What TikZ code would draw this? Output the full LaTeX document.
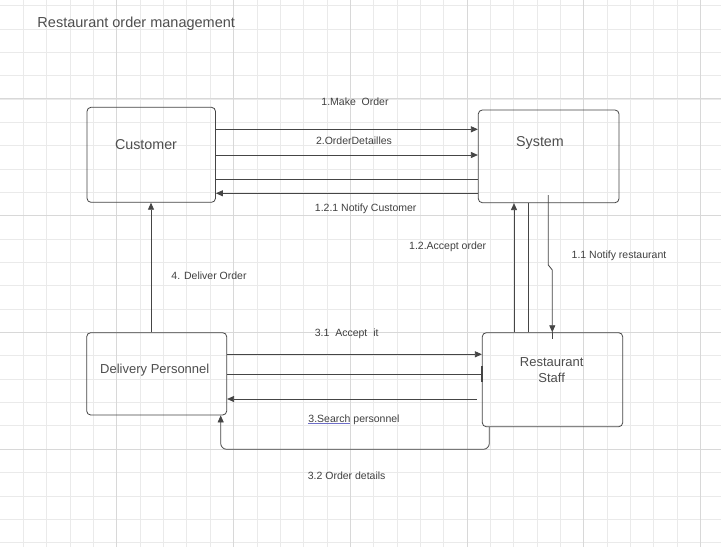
\documentclass[tikz,border=0pt]{standalone}
\usepackage{fontspec}
\setmainfont{Liberation Sans}
\usetikzlibrary{arrows.meta}
\definecolor{gridminor}{HTML}{EAEAEA}
\definecolor{gridmajor}{HTML}{D8D8D8}
\definecolor{ln}{HTML}{454545}
\definecolor{txt}{HTML}{404040}
\definecolor{boxtxt}{HTML}{4E4E4E}
\definecolor{linkblue}{HTML}{6E6EC8}
\begin{document}
\begin{tikzpicture}[x=1pt,y=-1pt,
  box/.style={draw=ln, line width=0.8pt, rounded corners=4pt, inner sep=0pt},
  flow/.style={draw=ln, line width=0.8pt, -{Triangle[length=7pt,width=6pt]}},
  plain/.style={draw=ln, line width=0.8pt},
  lbl/.style={text=txt, font=\fontsize{10.5}{12}\selectfont, inner sep=0pt},
  ttl/.style={text=boxtxt, font=\fontsize{14.3}{16.5}\selectfont, align=center, inner sep=0pt},
  ttls/.style={text=boxtxt, font=\fontsize{13}{16}\selectfont, align=center, inner sep=0pt}]

\useasboundingbox (0,0) rectangle (721,547);
\fill[white] (0,0) rectangle (721,547);
% grid
\foreach \i in {1,...,30} {
  \draw[gridminor, line width=0.7pt] (\i*23.35,0) -- (\i*23.35,547);
}
\foreach \i in {0,...,23} {
  \draw[gridminor, line width=0.7pt] (0,5.5+\i*23.35) -- (721,5.5+\i*23.35);
}
\foreach \i in {1,...,6} {
  \draw[gridmajor, line width=0.9pt] (\i*116.75,0) -- (\i*116.75,547);
}
\foreach \i in {0,...,3} {
  \draw[gridmajor, line width=0.9pt] (0,98.9+\i*116.75) -- (721,98.9+\i*116.75);
}

% title
\node[anchor=west, text=boxtxt, font=\fontsize{14.5}{17}\selectfont, inner sep=0pt] (title) at (37.3,24) {Restaurant order management};

% boxes
\node[box, minimum width=128.5pt, minimum height=95pt] (cust) at (151.25,154.8) {};
\node[box, minimum width=140.7pt, minimum height=92.7pt] (sys) at (548.65,156.35) {};
\node[box, minimum width=140.4pt, minimum height=94pt] (staff) at (552.5,379.7) {};
\node[box, minimum width=140pt, minimum height=82.3pt] (deliv) at (156.7,373.85) {};

\node[ttl] (custL) at (146,145) {Customer};
\node[ttl] (sysL) at (540,143.3) {System};
\node[ttls] (staffL) at (551.7,370) {Restaurant\\Staff};
\node[ttls] (delivL) at (154.8,370) {Delivery Personnel};

% customer <-> system
\draw[flow] (cust.east |- 0,129.3) -- (sys.west |- 0,129.3);
\draw[flow] (cust.east |- 0,155) -- (sys.west |- 0,155);
\draw[plain] (sys.west |- 0,179.3) -- (cust.east |- 0,179.3);
\draw[flow] (sys.west |- 0,193.3) -- (cust.east |- 0,193.3);

% system <-> staff
\draw[flow] (staff.north -| 514,0) -- (sys.south -| 514,0);
\draw[plain] (staff.north -| 528.3,0) -- (sys.south -| 528.3,0);
\coordinate (d1) at (548.3,195);
\draw[flow] (d1) -- (548.3,265) -- (552.3,270) -- (staff.north -| 552.3,0);
\draw[plain] (staff.north -| 552.3,0) -- ++(0,7);

% delivery <-> staff
\draw[flow] (deliv.east |- 0,354.3) -- (staff.west |- 0,354.3);
\draw[plain] (deliv.east |- 0,374) -- (staff.west |- 0,374);
\draw[draw=ln, line width=1.3pt] (staff.west |- 0,366) -- (staff.west |- 0,382);
\coordinate (s1) at (476.7,399);
\draw[flow] (s1) -- (deliv.east |- 0,399);
\draw[flow, rounded corners=6pt] (staff.south -| 489.3,0) -- (489.3,449.3) -- (220.7,449.3) -- (deliv.south -| 220.7,0);

% delivery -> customer
\draw[flow] (deliv.north -| 151,0) -- (cust.south -| 151,0);

% labels
\node[lbl] (l1) at (355,101.7) {1.Make\ \ Order};
\node[lbl] (l2) at (354,141) {2.OrderDetailles};
\node[lbl] (l3) at (365.7,209) {1.2.1 Notify Customer};
\node[lbl] (l4) at (447.7,246.7) {1.2.Accept order};
\node[lbl] (l5) at (619,256) {1.1 Notify restaurant};
\node[lbl] (l6) at (209,276) {4. Deliver Order};
\node[lbl] (l7) at (346.7,333.3) {3.1\ \ Accept\ \ it};
\node[lbl] (l8) at (354,419.3) {{\color{linkblue}\underline{\textcolor{txt}{3.Search}}} personnel};
\node[lbl] (l9) at (346.7,476) {3.2 Order details};
\end{tikzpicture}
\end{document}
